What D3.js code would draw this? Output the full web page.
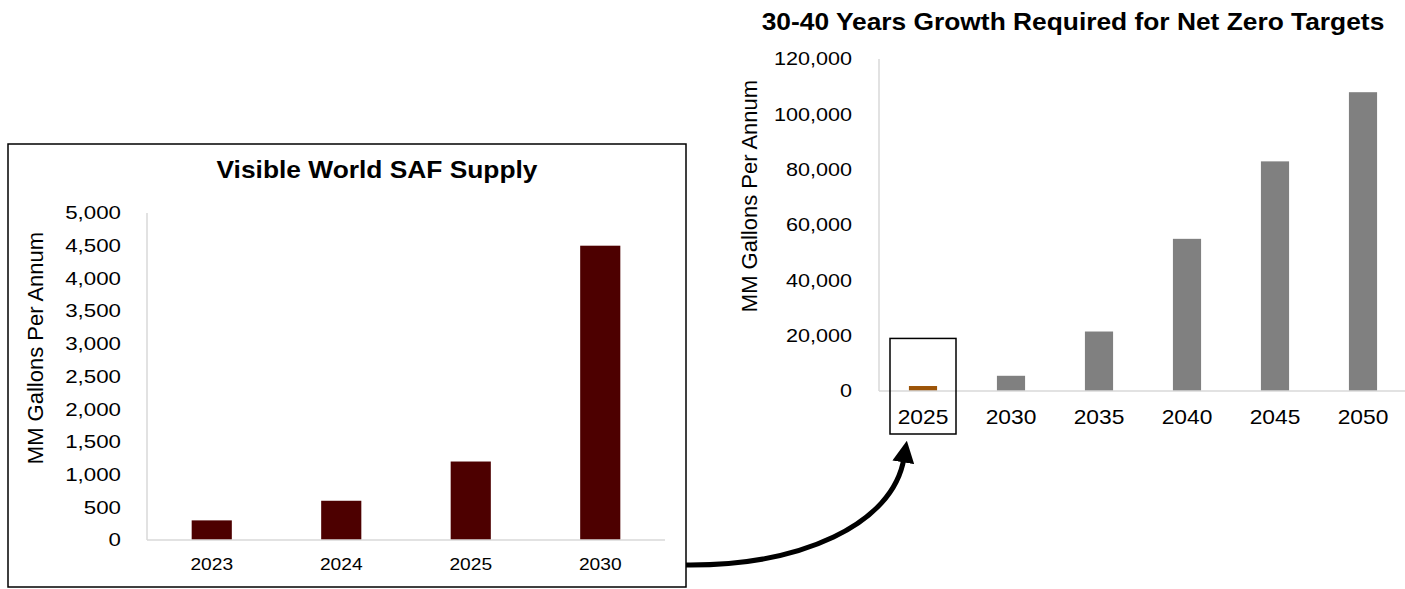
<!DOCTYPE html>
<html>
<head>
<meta charset="utf-8">
<script src="https://cdn.jsdelivr.net/npm/d3@7"></script>
<style>
  body { margin: 0; background: #fff; }
  svg text { font-family: "Liberation Sans", Arial, sans-serif; fill: #000; }
</style>
</head>
<body>
<svg id="chart" width="1405" height="589"></svg>
<script>
// left chart: visible supply
const supplyYears = ["2023", "2024", "2025", "2030"];
const supplyValues = [300, 600, 1200, 4500];
const supplyTicks = [0, 500, 1000, 1500, 2000, 2500, 3000, 3500, 4000, 4500, 5000];

// right chart: net zero requirement
const targetYears = ["2025", "2030", "2035", "2040", "2045", "2050"];
const targetValues = [1800, 5500, 21500, 55000, 83000, 108000];
const targetTicks = [0, 20000, 40000, 60000, 80000, 100000, 120000];

const svg = d3.select("#chart");
const fmt = d3.format(",");
const axisGray = "#d9d9d9";

// text in the source is a bit wider than plain Arial, so stretch it sideways
function wide(sel, px, py, sx) {
  return sel.attr("transform", (d, i) => `translate(${px(d, i)},${py(d, i)}) scale(${sx},1)`);
}

// frame around left chart
svg.append("rect")
  .attr("x", 8).attr("y", 144)
  .attr("width", 678).attr("height", 443)
  .attr("fill", "none").attr("stroke", "#000").attr("stroke-width", 1.5);

function drawChart(cfg) {
  const g = svg.append("g");
  const x = d3.scaleBand().domain(cfg.cats).range([cfg.x0, cfg.x1])
    .paddingInner(cfg.pad).paddingOuter(cfg.pad / 2);
  const y = d3.scaleLinear().domain([0, cfg.max]).range([cfg.y0, cfg.y1]);

  // bars
  g.selectAll("rect.bar")
    .data(cfg.values)
    .enter()
    .append("rect")
    .attr("class", "bar")
    .attr("x", (d, i) => x(cfg.cats[i]))
    .attr("y", d => y(d))
    .attr("width", x.bandwidth())
    .attr("height", d => y(0) - y(d))
    .attr("fill", (d, i) => cfg.colors[i]);

  // axis lines
  g.append("line")
    .attr("x1", cfg.x0).attr("x2", cfg.x0)
    .attr("y1", cfg.y1).attr("y2", cfg.y0)
    .attr("stroke", axisGray).attr("stroke-width", 1.5);
  g.append("line")
    .attr("x1", cfg.x0).attr("x2", cfg.x1)
    .attr("y1", cfg.y0).attr("y2", cfg.y0)
    .attr("stroke", axisGray).attr("stroke-width", 1.5);

  // y tick labels
  wide(g.selectAll("text.ytick")
    .data(cfg.ticks)
    .enter()
    .append("text")
    .attr("dy", "0.35em")
    .attr("text-anchor", "end")
    .style("font-size", cfg.tickSize + "px")
    .text(d => fmt(d)), () => cfg.x0 - cfg.tickGap, d => y(d), cfg.tickSx);

  // x labels
  wide(g.selectAll("text.xtick")
    .data(cfg.cats)
    .enter()
    .append("text")
    .attr("text-anchor", "middle")
    .style("font-size", cfg.xSize + "px")
    .text(d => d), d => x(d) + x.bandwidth() / 2, () => cfg.y0 + cfg.xLabelOffset, cfg.xSx);

  // axis title
  g.append("text")
    .attr("transform", `translate(${cfg.titleX},${cfg.titleY}) rotate(-90)`)
    .attr("text-anchor", "middle")
    .style("font-size", "22px")
    .text("MM Gallons Per Annum");

  // chart title
  g.append("text")
    .attr("transform", `translate(${cfg.headX},${cfg.headY}) scale(1.146,1)`)
    .attr("text-anchor", "middle")
    .style("font-size", "23px").style("font-weight", "bold")
    .text(cfg.title);

  return { x, y };
}

drawChart({
  cats: supplyYears, values: supplyValues, ticks: supplyTicks, max: 5000,
  colors: supplyValues.map(() => "#4d0000"),
  x0: 147, x1: 665, y0: 540, y1: 213, pad: 0.69,
  tickGap: 26, tickSize: 18, tickSx: 1.24, xSize: 17, xSx: 1.13, xLabelOffset: 30,
  titleX: 43, titleY: 348,
  title: "Visible World SAF Supply", headX: 377, headY: 178
});

const right = drawChart({
  cats: targetYears, values: targetValues, ticks: targetTicks, max: 120000,
  colors: targetValues.map((d, i) => i === 0 ? "#9c5408" : "#808080"),
  x0: 879, x1: 1407, y0: 391, y1: 59, pad: 0.68,
  tickGap: 27, tickSize: 18, tickSx: 1.2, xSize: 20, xSx: 1.14, xLabelOffset: 33,
  titleX: 757, titleY: 196,
  title: "30-40 Years Growth Required for Net Zero Targets", headX: 1073, headY: 30
});

// highlight box around the 2025 bar
const bx = right.x("2025") + right.x.bandwidth() / 2;
svg.append("rect")
  .attr("x", bx - 33).attr("y", right.y(19000))
  .attr("width", 66).attr("height", 434 - right.y(19000))
  .attr("fill", "none").attr("stroke", "#000").attr("stroke-width", 1.5);

// curved arrow from the left chart to the highlight box
svg.append("defs").append("marker")
  .attr("id", "head")
  .attr("viewBox", "0 0 10 10")
  .attr("refX", 2).attr("refY", 5)
  .attr("markerWidth", 4.4).attr("markerHeight", 4.4)
  .attr("orient", "auto")
  .append("path")
  .attr("d", "M0,0 L10,5 L0,10 Z")
  .attr("fill", "#000");

svg.append("path")
  .attr("d", `M686,565 C800,566 893,525 904,458`)
  .attr("fill", "none")
  .attr("stroke", "#000")
  .attr("stroke-width", 5)
  .attr("marker-end", "url(#head)");
</script>
</body>
</html>
